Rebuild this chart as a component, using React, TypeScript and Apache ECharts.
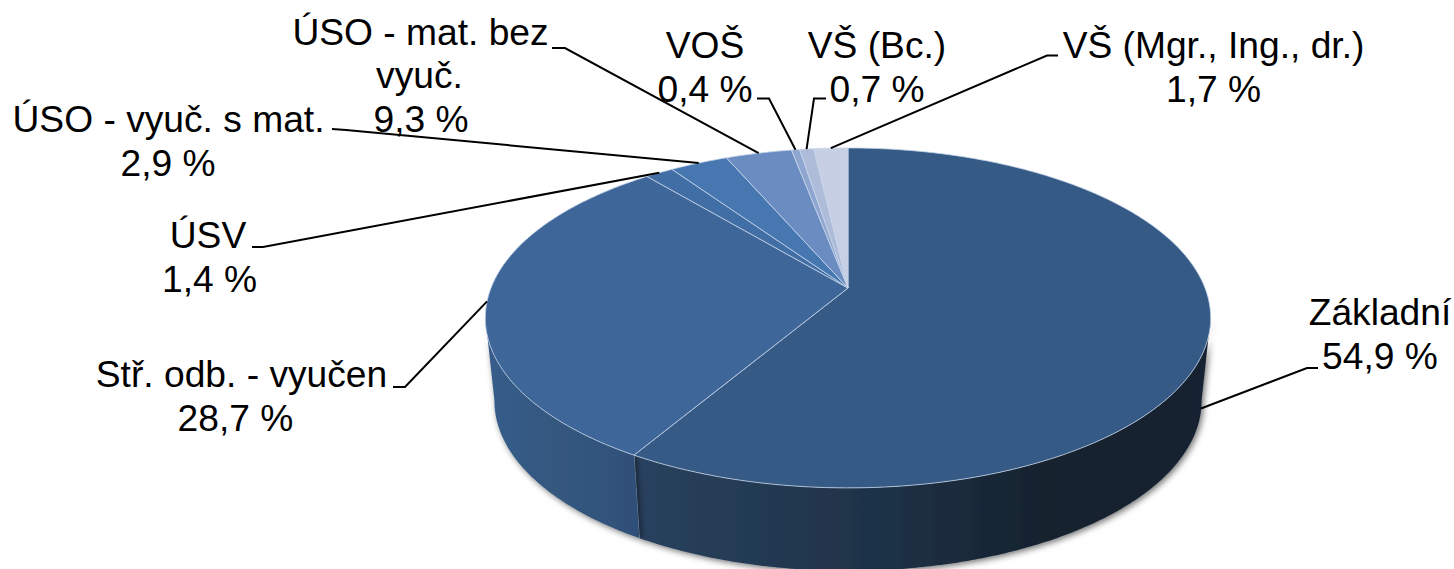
import React, { useEffect, useRef } from "react";
import * as echarts from "echarts";

// Category names as shown in the chart, wrapped as in the reference
const categoryLines = [
  ["Základní"],
  ["Stř. odb. - vyučen"],
  ["ÚSV"],
  ["ÚSO - vyuč. s mat."],
  ["ÚSO - mat. bez", "vyuč."],
  ["VOŠ"],
  ["VŠ (Bc.)"],
  ["VŠ (Mgr., Ing., dr.)"],
];
// Printed labels (the reference prints 9,3 % on a slice that is drawn at about 3,3)
const valueLabels = ["54,9 %", "28,7 %", "1,4 %", "2,9 %", "9,3 %", "0,4 %", "0,7 %", "1,7 %"];
// Slice sizes
const sliceValues = [55.1, 28.7, 1.4, 2.9, 3.3, 0.4, 0.7, 1.7];

const faceColors = ["#355a85", "#3e6699", "#416ea5", "#4677b0", "#6a8cc0", "#8ea6d0", "#aebcd9", "#c6cfe3"];

// Projection of the tilted pie
const CX = 848;
const CY = 288;
const A = 357;
const B = 164.7;
const K = -0.176;
const DEPTH = 83;
const BOTTOM_SCALE = 0.975;
const WALL_FROM = 100;
const WALL_TO = 260;

const total = sliceValues.reduce((s, v) => s + v, 0);
const angleAt = (i: number) =>
  (sliceValues.slice(0, i).reduce((s, v) => s + v, 0) / total) * 360;

const topPoint = (deg: number) => {
  const r = (deg * Math.PI) / 180;
  const u = Math.sin(r);
  const v = -Math.cos(r);
  const d = 1 + K * v;
  return [CX + (A * u) / d, CY + (B * v) / d];
};
const lowPoint = (deg: number, depth = DEPTH) => {
  const [x, y] = topPoint(deg);
  const f = depth / DEPTH;
  return [CX + (x - CX) * (1 - (1 - BOTTOM_SCALE) * f), y + depth];
};
const arcPoints = (from: number, to: number, fn: (d: number) => number[]) => {
  const pts: number[][] = [];
  const n = Math.max(2, Math.ceil((to - from) / 0.5));
  for (let i = 0; i <= n; i++) pts.push(fn(from + ((to - from) * i) / n));
  return pts;
};

const wallFills = () => [
  new echarts.graphic.LinearGradient(0, 0, 1, 0, [
    { offset: 0, color: "#29425f" },
    { offset: 0.4, color: "#1f3349" },
    { offset: 0.7, color: "#16232f" },
    { offset: 1, color: "#162230" },
  ]),
  new echarts.graphic.LinearGradient(0, 0, 1, 0, [
    { offset: 0, color: "#375d8b" },
    { offset: 0.5, color: "#34577e" },
    { offset: 1, color: "#2f4f78" },
  ]),
];

const renderWall = (params: any) => {
  const i = params.dataIndex;
  const from = Math.max(angleAt(i), WALL_FROM);
  const to = Math.min(angleAt(i + 1), WALL_TO);
  if (to <= from) return { type: "group", children: [] };
  const fills = wallFills();
  const points = [...arcPoints(from, to, topPoint), ...arcPoints(from, to, (d) => lowPoint(d)).reverse()];
  const children: any[] = [
    {
      type: "polygon",
      shape: { points },
      style: {
        fill: fills[i],
        shadowColor: "rgba(0,0,0,0.55)",
        shadowBlur: 6,
        shadowOffsetX: 2,
        shadowOffsetY: 2,
      },
    },
  ];
  if (i === 0) {
    children.push({
      type: "polyline",
      shape: { points: [topPoint(to), lowPoint(to)] },
      style: { stroke: "rgba(200,212,230,0.8)", lineWidth: 1, fill: "none" },
    });
  }
  return { type: "group", children };
};

const renderFace = (params: any) => {
  const i = params.dataIndex;
  const points = [[CX, CY], ...arcPoints(angleAt(i), angleAt(i + 1), topPoint)];
  return {
    type: "polygon",
    shape: { points },
    style: {
      fill: faceColors[i],
      stroke: "rgba(198,212,232,0.8)",
      lineWidth: 1,
    },
  };
};

// Layout of the labels (centre of each line) and the elbows of their leader lines
const LINE_HEIGHT = 43.5;
const labelLayout: any[] = [
  { xs: [1380, 1380], y: 312, knee: [1307, 368], elbow: [1318, 368], onWall: true },
  { xs: [241.5, 235.5], y: 374, knee: [405, 387], elbow: [393, 387] },
  { xs: [208, 209.5], y: 235, knee: [263, 247], elbow: [252, 247] },
  { xs: [168.5, 168], y: 119, knee: [346, 130], elbow: [332, 129] },
  { xs: [420.5, 419.5, 421], y: 31.5, knee: [565, 48], elbow: [552, 48] },
  { xs: [705, 705], y: 45, knee: [769, 98.5], elbow: [757, 98.5] },
  { xs: [877, 877], y: 45, knee: [814, 98.5], elbow: [826, 98.5] },
  { xs: [1213.5, 1213.5], y: 45, knee: [1047, 55.5], elbow: [1058, 55.5] },
];

const buildGraphics = () => {
  const els: any[] = [];
  categoryLines.forEach((lines, i) => {
    const l = labelLayout[i];
    const mid = (angleAt(i) + angleAt(i + 1)) / 2;
    const anchor = l.onWall ? lowPoint(mid, 75) : topPoint(mid);
    els.push({
      type: "polyline",
      z: 10,
      shape: { points: [anchor, l.knee, l.elbow] },
      style: { stroke: "#000", lineWidth: 2, fill: "none" },
    });
    [...lines, valueLabels[i]].forEach((text, n) => {
      els.push({
        type: "text",
        z: 11,
        x: l.xs[n],
        y: l.y + n * LINE_HEIGHT,
        style: {
          text,
          fontFamily: "Liberation Sans",
          fontSize: 37.2,
          fill: "#000",
          align: "center",
          verticalAlign: "middle",
        },
      });
    });
  });
  return els;
};

export default function App() {
  const ref = useRef<HTMLDivElement>(null);
  useEffect(() => {
    const chart = echarts.init(ref.current!, null, { renderer: "svg" });
    chart.setOption({
      animation: false,
      backgroundColor: "#fff",
      series: [
        {
          type: "custom",
          coordinateSystem: "none",
          silent: true,
          z: 1,
          data: sliceValues,
          renderItem: renderWall,
        },
        {
          type: "custom",
          coordinateSystem: "none",
          silent: true,
          z: 2,
          data: sliceValues,
          renderItem: renderFace,
        },
      ],
      graphic: buildGraphics(),
    });
    return () => chart.dispose();
  }, []);
  return (
    <div
      ref={ref}
      style={{ position: "absolute", left: 0, top: 0, width: 1454, height: 569, overflow: "hidden" }}
    />
  );
}
